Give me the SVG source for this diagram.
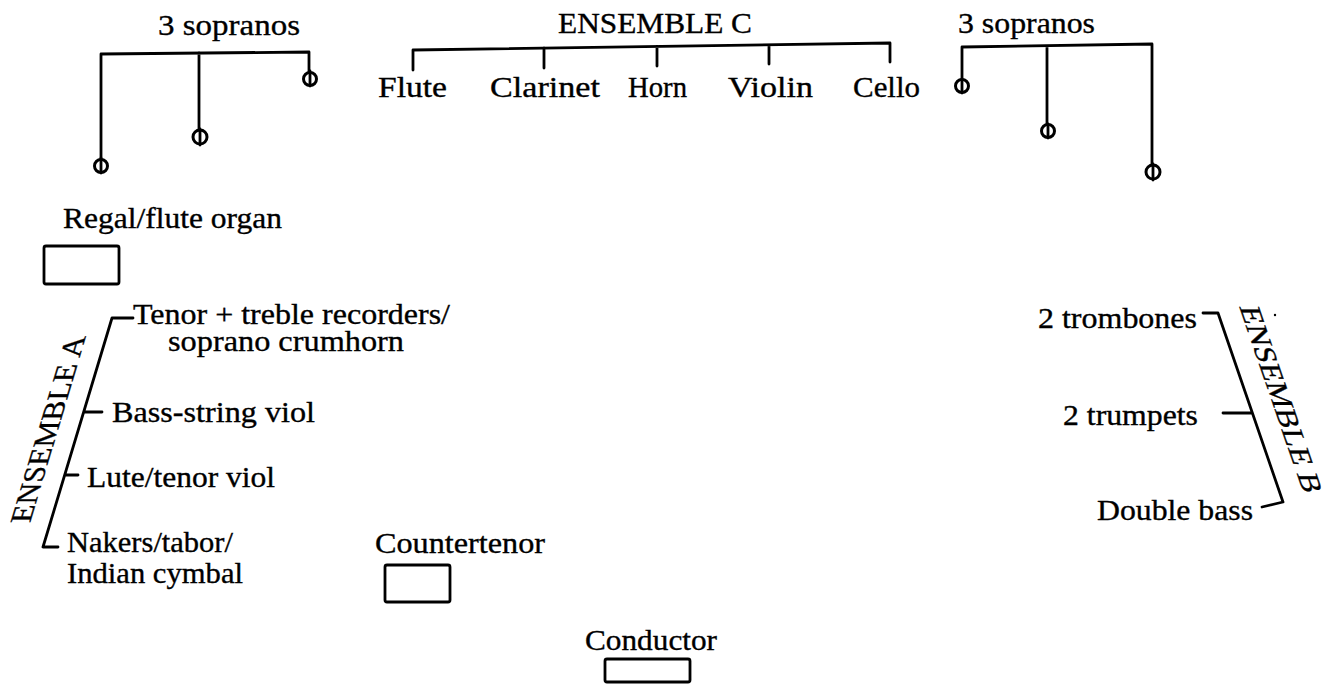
<svg xmlns="http://www.w3.org/2000/svg" width="1333" height="684" viewBox="0 0 1333 684">
<style>
  .t { font-family: "Liberation Serif", "Times New Roman", serif; font-size: 30px; fill: #000; stroke: #000; stroke-width: 0.35; }
  .ln { stroke: #000; stroke-width: 2.8; fill: none; stroke-linecap: round; stroke-linejoin: round; }
  .sym { stroke: #000; stroke-width: 3; fill: #fff; }
  .box { stroke: #000; stroke-width: 2.8; fill: #fff; }
</style>
<rect width="1333" height="684" fill="#fff"/>

<g id="connectors">
  <!-- left sopranos bracket -->
  <path class="ln" d="M101,166 L101,54 L309,52 L309,79 M199,53 L199,137"/>
  <!-- ensemble C bracket -->
  <path class="ln" d="M413,70 L413,50 L890,43 L890,62 M544,48 L544,68 M657,46.5 L657,66 M769,45 L769,64"/>
  <!-- right sopranos bracket -->
  <path class="ln" d="M962,86 L962,47 L1152,44 L1152,172 M1047,46 L1047,131"/>
  <!-- ensemble A bracket -->
  <path class="ln" d="M133,318 L112,318 L43,547 L58,547 M84,412 L102,412 M65,475 L78,475"/>
  <!-- ensemble B bracket -->
  <path class="ln" d="M1203,313 L1218,313 L1283,502 L1262,507 M1223,413 L1251,413"/>
</g>

<g id="sopranos-left">
  <text class="t" x="158" y="35" textLength="142" lengthAdjust="spacingAndGlyphs">3 sopranos</text>
  <circle class="sym" cx="101" cy="166" r="6.5"/>
  <line class="ln" x1="101" y1="158" x2="101" y2="173"/>
  <circle class="sym" cx="200" cy="137" r="7"/>
  <line class="ln" x1="200" y1="129" x2="200" y2="145"/>
  <circle class="sym" cx="310" cy="79" r="6.5"/>
  <line class="ln" x1="310" y1="71" x2="310" y2="86"/>
</g>

<g id="ensemble-c">
  <text class="t" x="558" y="33" textLength="194" lengthAdjust="spacingAndGlyphs">ENSEMBLE C</text>
  <text class="t" x="378" y="97" textLength="69" lengthAdjust="spacingAndGlyphs">Flute</text>
  <text class="t" x="490" y="97" textLength="110" lengthAdjust="spacingAndGlyphs">Clarinet</text>
  <text class="t" x="628" y="97" textLength="59" lengthAdjust="spacingAndGlyphs">Horn</text>
  <text class="t" x="728" y="97" textLength="85" lengthAdjust="spacingAndGlyphs">Violin</text>
  <text class="t" x="853" y="97" textLength="67" lengthAdjust="spacingAndGlyphs">Cello</text>
</g>

<g id="sopranos-right">
  <text class="t" x="958" y="33" textLength="137" lengthAdjust="spacingAndGlyphs">3 sopranos</text>
  <circle class="sym" cx="962" cy="86" r="6.5"/>
  <line class="ln" x1="962" y1="79" x2="962" y2="93"/>
  <circle class="sym" cx="1048" cy="131" r="6.5"/>
  <line class="ln" x1="1048" y1="124" x2="1048" y2="138"/>
  <circle class="sym" cx="1153" cy="172" r="7"/>
  <line class="ln" x1="1153" y1="164" x2="1153" y2="180"/>
</g>

<g id="regal">
  <text class="t" x="63" y="228" textLength="219" lengthAdjust="spacingAndGlyphs">Regal/flute organ</text>
  <rect class="box" x="44" y="246" width="75" height="38" rx="2"/>
</g>

<g id="ensemble-a">
  <text class="t" transform="matrix(0.3,-1,1,0,30,523)" x="0" y="0" textLength="187" lengthAdjust="spacingAndGlyphs">ENSEMBLE A</text>
  <text class="t" x="133" y="324" textLength="317" lengthAdjust="spacingAndGlyphs">Tenor + treble recorders/</text>
  <text class="t" x="168" y="351" textLength="236" lengthAdjust="spacingAndGlyphs">soprano crumhorn</text>
  <text class="t" x="112" y="422" textLength="203" lengthAdjust="spacingAndGlyphs">Bass-string viol</text>
  <text class="t" x="87" y="487" textLength="188" lengthAdjust="spacingAndGlyphs">Lute/tenor viol</text>
  <text class="t" x="67" y="552" textLength="166" lengthAdjust="spacingAndGlyphs">Nakers/tabor/</text>
  <text class="t" x="67" y="583" textLength="176" lengthAdjust="spacingAndGlyphs">Indian cymbal</text>
</g>

<g id="ensemble-b">
  <text class="t" transform="matrix(0.344,1,-1,0,1239,306)" x="0" y="0" textLength="187" lengthAdjust="spacingAndGlyphs">ENSEMBLE B</text>
  <text class="t" x="1038" y="328" textLength="159" lengthAdjust="spacingAndGlyphs">2 trombones</text>
  <text class="t" x="1063" y="425" textLength="135" lengthAdjust="spacingAndGlyphs">2 trumpets</text>
  <text class="t" x="1097" y="520" textLength="156" lengthAdjust="spacingAndGlyphs">Double bass</text>
  <circle cx="1275" cy="315" r="1.2" fill="#000"/>
</g>

<g id="countertenor">
  <text class="t" x="375" y="553" textLength="170" lengthAdjust="spacingAndGlyphs">Countertenor</text>
  <rect class="box" x="385" y="565" width="65" height="37" rx="2"/>
</g>

<g id="conductor">
  <text class="t" x="585" y="650" textLength="132" lengthAdjust="spacingAndGlyphs">Conductor</text>
  <rect class="box" x="605" y="659" width="85" height="23" rx="2"/>
</g>
</svg>
